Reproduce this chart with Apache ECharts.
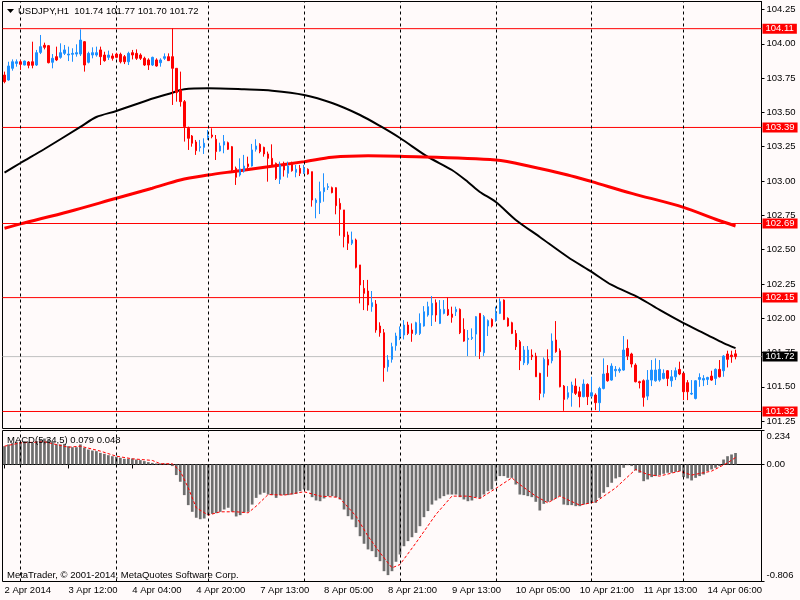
<!DOCTYPE html>
<html>
<head>
<meta charset="utf-8">
<script src="https://cdn.jsdelivr.net/npm/echarts@6.0.0/dist/echarts.min.js"></script>
<style>
html,body{margin:0;padding:0;background:#fffafa;}
#chart{width:800px;height:600px;}
</style>
</head>
<body>
<div id="chart"></div>
<script>
// ---- data ----
// trading sessions: [day label, first hour, last hour]
const sessions = [['2 Apr',20,23],['3 Apr',0,23],['4 Apr',0,22],['7 Apr',0,23],['8 Apr',0,23],['9 Apr',0,23],['10 Apr',0,23],['11 Apr',0,22],['14 Apr',0,13]];
const xTickLabels = ['2 Apr 2014','3 Apr 12:00','4 Apr 04:00','4 Apr 20:00','7 Apr 13:00','8 Apr 05:00','8 Apr 21:00','9 Apr 13:00','10 Apr 05:00','10 Apr 21:00','11 Apr 13:00','14 Apr 06:00'];
const priceTicks = [101.25,101.50,101.75,102.00,102.25,102.50,102.75,103.00,103.25,103.50,103.75,104.00,104.25];
const macdTickValues = [0.234, 0, -0.806];
const macdTickLabels = ['0.234','0.00','-0.806'];
const redLevels = [104.11, 103.39, 102.69, 102.15, 101.32];
const bidLevel = 101.72;

const open = [103.772,103.736,103.821,103.857,103.869,103.845,103.867,103.869,103.845,103.937,103.989,103.986,103.865,103.906,103.901,103.930,103.918,103.923,103.925,103.925,104.015,103.865,103.918,103.918,103.955,103.918,103.901,103.911,103.925,103.923,103.906,103.869,103.935,103.930,103.918,103.894,103.882,103.845,103.882,103.862,103.894,103.906,103.906,103.821,103.663,103.578,103.384,103.328,103.284,103.243,103.245,103.318,103.335,103.304,103.219,103.262,103.279,103.250,103.092,103.044,103.073,103.124,103.109,103.231,103.267,103.245,103.197,103.165,103.129,103.012,103.129,103.056,103.129,103.063,103.092,103.061,103.085,103.068,102.842,102.842,102.922,102.954,102.951,102.951,102.837,102.789,102.606,102.546,102.570,102.388,102.217,102.198,102.084,102.103,101.943,101.894,101.646,101.700,101.800,101.865,101.877,101.950,101.914,101.889,101.889,101.943,102.023,102.023,102.113,101.962,102.035,102.064,102.030,102.047,102.064,101.918,101.845,101.853,101.884,102.035,101.748,101.943,101.991,101.986,102.035,102.132,101.999,101.967,101.889,101.828,101.675,101.671,101.731,101.724,101.598,101.452,101.700,101.690,101.841,101.763,101.505,101.423,101.457,101.505,101.464,101.428,101.517,101.432,101.440,101.384,101.488,101.598,101.549,101.617,101.617,101.622,101.780,101.739,101.658,101.537,101.544,101.432,101.549,101.544,101.549,101.561,101.617,101.544,101.573,101.627,101.598,101.530,101.447,101.415,101.554,101.549,101.554,101.578,101.561,101.627,101.617,101.739,101.731,101.740];
const high = [103.797,103.869,103.886,103.886,103.882,103.877,103.874,104.015,103.955,104.064,104.008,103.991,103.925,103.979,104.003,103.991,103.979,103.967,103.996,104.105,104.020,103.942,103.974,103.979,103.979,103.942,103.950,103.930,103.935,103.935,103.918,103.942,103.955,103.959,103.930,103.906,103.894,103.906,103.894,103.894,103.930,103.930,104.112,103.821,103.797,103.590,103.396,103.335,103.299,103.299,103.311,103.372,103.384,103.335,103.279,103.335,103.287,103.255,103.105,103.165,103.190,103.177,103.270,103.304,103.275,103.250,103.214,103.267,103.134,103.141,103.141,103.141,103.141,103.117,103.117,103.117,103.092,103.068,102.874,102.995,103.056,102.983,102.959,102.954,102.874,102.789,102.631,102.631,102.580,102.388,102.278,102.279,102.198,102.132,101.970,101.921,101.731,101.821,101.894,101.940,101.986,101.974,101.962,101.974,102.035,102.088,102.120,102.161,102.137,102.132,102.132,102.152,102.084,102.084,102.071,101.999,101.914,101.926,102.016,102.035,102.023,101.991,101.999,102.084,102.144,102.137,102.006,101.974,101.914,101.841,101.797,101.797,101.773,101.748,101.602,101.714,101.773,101.889,101.979,101.780,101.513,101.505,101.537,101.561,101.500,101.554,101.525,101.573,101.452,101.500,101.707,101.658,101.671,101.651,101.641,101.870,101.845,101.748,101.671,101.544,101.554,101.622,101.695,101.707,101.695,101.627,101.622,101.622,101.641,101.683,101.602,101.549,101.549,101.549,101.598,101.585,101.573,101.617,101.634,101.695,101.731,101.763,101.763,101.770];
const low = [103.712,103.731,103.804,103.833,103.809,103.843,103.821,103.821,103.838,103.925,103.959,103.857,103.821,103.874,103.891,103.918,103.874,103.869,103.906,103.911,103.797,103.857,103.894,103.906,103.845,103.869,103.882,103.877,103.894,103.857,103.852,103.845,103.886,103.882,103.882,103.838,103.809,103.838,103.833,103.833,103.882,103.877,103.554,103.578,103.542,103.287,103.226,103.250,103.190,103.214,103.197,103.299,103.311,103.153,103.214,103.202,103.226,103.068,102.971,103.032,103.061,103.092,103.105,103.214,103.202,103.177,102.995,103.105,103.007,102.978,103.032,103.024,103.068,103.027,103.036,103.051,103.046,102.813,102.728,102.759,102.849,102.934,102.910,102.757,102.601,102.516,102.497,102.533,102.363,102.108,102.059,102.054,102.047,101.894,101.865,101.537,101.610,101.676,101.763,101.840,101.845,101.877,101.828,101.877,101.877,101.938,102.011,101.943,101.974,101.957,102.028,102.016,101.967,102.016,101.884,101.828,101.724,101.841,101.724,101.702,101.724,101.870,101.933,101.974,102.030,101.986,101.938,101.884,101.768,101.622,101.658,101.658,101.695,101.573,101.403,101.423,101.573,101.671,101.748,101.496,101.325,101.408,101.355,101.440,101.350,101.423,101.367,101.423,101.330,101.318,101.481,101.537,101.544,101.573,101.602,101.617,101.695,101.641,101.532,101.488,101.355,101.403,101.505,101.537,101.537,101.554,101.505,101.500,101.549,101.585,101.403,101.403,101.440,101.408,101.500,101.505,101.513,101.544,101.513,101.568,101.573,101.641,101.675,101.700];
const close = [103.724,103.838,103.869,103.869,103.850,103.874,103.843,103.843,103.935,103.979,103.974,103.862,103.894,103.882,103.935,103.955,103.925,103.930,103.935,104.027,103.845,103.930,103.935,103.935,103.906,103.877,103.918,103.894,103.901,103.869,103.869,103.930,103.918,103.894,103.894,103.845,103.845,103.901,103.838,103.882,103.906,103.877,103.821,103.644,103.578,103.396,103.311,103.275,103.221,103.250,103.275,103.328,103.323,103.214,103.255,103.287,103.231,103.080,103.027,103.088,103.109,103.105,103.226,103.255,103.214,103.197,103.165,103.109,103.019,103.117,103.080,103.109,103.075,103.085,103.056,103.092,103.051,102.861,102.861,102.922,102.951,102.959,102.915,102.820,102.793,102.594,102.546,102.570,102.371,102.242,102.181,102.096,102.113,101.914,101.894,101.639,101.695,101.792,101.870,101.918,101.950,101.889,101.889,101.967,101.962,102.047,102.084,102.108,102.023,102.064,102.064,102.023,102.006,102.064,101.894,101.833,101.853,101.860,102.011,101.756,102.011,101.982,101.943,102.040,102.120,101.991,101.943,101.889,101.792,101.690,101.768,101.768,101.719,101.573,101.452,101.700,101.658,101.833,101.756,101.500,101.408,101.457,101.513,101.452,101.428,101.520,101.428,101.457,101.384,101.488,101.593,101.544,101.651,101.627,101.627,101.768,101.724,101.666,101.537,101.530,101.423,101.549,101.622,101.622,101.627,101.598,101.561,101.573,101.617,101.593,101.464,101.464,101.452,101.544,101.568,101.561,101.568,101.549,101.627,101.573,101.724,101.700,101.719,101.720];

// moving averages: [bar index, value]
const maFast = [[0,103.061],[4,103.131],[10,103.233],[19,103.394],[23,103.466],[28,103.510],[36,103.590],[41,103.634],[45,103.668],[51,103.676],[60,103.668],[67,103.658],[75,103.627],[82,103.568],[89,103.481],[94,103.401],[99,103.313],[106,103.175],[112,103.080],[116,102.993],[119,102.920],[123,102.847],[128,102.716],[134,102.592],[141,102.446],[147,102.337],[152,102.242],[159,102.147],[164,102.060],[170,101.964],[176,101.877],[180,101.818],[183,101.782]];
const maSlow = [[0,102.655],[4,102.687],[16,102.776],[28,102.874],[37,102.947],[44,103.007],[51,103.043],[57,103.068],[66,103.104],[75,103.141],[82,103.173],[91,103.184],[99,103.180],[123,103.153],[132,103.104],[141,103.044],[147,102.995],[157,102.910],[170,102.808],[178,102.721],[183,102.672]];

const macd = [0.126,0.138,0.149,0.156,0.156,0.161,0.156,0.149,0.161,0.172,0.179,0.172,0.156,0.138,0.138,0.142,0.126,0.119,0.119,0.138,0.115,0.103,0.096,0.092,0.080,0.073,0.064,0.057,0.053,0.046,0.039,0.039,0.041,0.034,0.030,0.023,0.016,0.011,0.007,0.007,0.007,0.005,-0.011,-0.073,-0.119,-0.211,-0.280,-0.326,-0.367,-0.377,-0.372,-0.349,-0.340,-0.335,-0.326,-0.310,-0.298,-0.326,-0.358,-0.349,-0.331,-0.326,-0.276,-0.230,-0.207,-0.195,-0.207,-0.211,-0.230,-0.211,-0.211,-0.211,-0.207,-0.202,-0.184,-0.172,-0.179,-0.225,-0.248,-0.253,-0.234,-0.218,-0.218,-0.225,-0.241,-0.310,-0.356,-0.379,-0.432,-0.494,-0.546,-0.585,-0.597,-0.638,-0.666,-0.735,-0.762,-0.735,-0.670,-0.620,-0.563,-0.528,-0.501,-0.471,-0.425,-0.363,-0.321,-0.276,-0.248,-0.234,-0.218,-0.207,-0.207,-0.207,-0.225,-0.241,-0.253,-0.248,-0.225,-0.234,-0.207,-0.184,-0.172,-0.115,-0.080,-0.080,-0.092,-0.092,-0.138,-0.207,-0.211,-0.218,-0.225,-0.257,-0.317,-0.271,-0.257,-0.248,-0.234,-0.218,-0.276,-0.280,-0.280,-0.287,-0.287,-0.276,-0.271,-0.264,-0.264,-0.230,-0.195,-0.156,-0.126,-0.096,-0.087,-0.023,-0.005,-0.011,-0.041,-0.057,-0.115,-0.103,-0.087,-0.080,-0.073,-0.064,-0.057,-0.057,-0.051,-0.046,-0.087,-0.096,-0.110,-0.092,-0.080,-0.069,-0.046,-0.034,-0.023,-0.011,0.034,0.057,0.069,0.079];
const signal = [[0,0.126],[4,0.149],[10,0.156],[16,0.119],[19,0.126],[24,0.092],[28,0.057],[32,0.039],[37,0.028],[39,0.005],[42,0.005],[44,-0.046],[46,-0.161],[48,-0.298],[51,-0.349],[54,-0.326],[58,-0.326],[61,-0.333],[63,-0.287],[66,-0.207],[70,-0.211],[75,-0.188],[79,-0.218],[83,-0.225],[84,-0.234],[88,-0.356],[91,-0.494],[94,-0.608],[97,-0.712],[99,-0.689],[103,-0.540],[108,-0.344],[112,-0.218],[116,-0.218],[119,-0.234],[123,-0.165],[127,-0.092],[129,-0.138],[133,-0.218],[136,-0.264],[139,-0.218],[144,-0.280],[148,-0.257],[153,-0.161],[158,-0.034],[161,-0.069],[164,-0.080],[169,-0.046],[172,-0.073],[177,-0.046],[181,0.011],[183,0.048]];

// ---- build tables ----
const categories = [];
const dayStarts = [];
sessions.forEach(function (s) {
  for (let h = s[1]; h <= s[2]; h++) {
    if (h === 0) dayStarts.push(categories.length);
    categories.push(s[0] + ' ' + (h < 10 ? '0' : '') + h + ':00');
  }
});
const nBars = categories.length;
for (let k = 0; k < 6; k++) categories.push('');
const candles = open.map(function (o, i) { return [o, close[i], low[i], high[i]]; });
const nulls = categories.map(function () { return null; });

const FONT = 'Liberation Sans';
const FS = 9.5;
const labelEvery = 16;
function isLabel(idx) { return idx % labelEvery === 0 && idx < nBars; }

const chart = echarts.init(document.getElementById('chart'), null, {renderer: 'canvas'});
const vLines = dayStarts.map(function (i) { return {xAxis: i}; });

// horizontal price levels drawn as line series across a hidden 0..1 axis spanning the panel
function levelSeries(v, lineColor, boxColor) {
  return {
    type: 'line', name: 'level ' + v, xAxisIndex: 2, yAxisIndex: 0, z: 2, silent: true,
    data: [[0, v], [1, v]], showSymbol: false, symbol: 'none',
    color: lineColor,
    lineStyle: {color: lineColor, width: 1, type: 'solid'},
    endLabel: {show: true, distance: 1, padding: [1, 3, 0, 3], fontSize: FS, fontFamily: FONT,
      lineHeight: 9, backgroundColor: boxColor, color: '#ffffff',
      formatter: function () { return v.toFixed(2); }}
  };
}
const levelSeriesList = [levelSeries(bidLevel, '#c0c0c0', '#000000')].concat(
  redLevels.map(function (v) { return levelSeries(v, '#ff0000', '#ff0000'); }));

chart.setOption({
  animation: false,
  backgroundColor: '#fffafa',
  textStyle: {fontFamily: FONT},
  grid: [
    {left: 2.5, right: 38.5, top: 1.5, bottom: 171.5, show: true, borderColor: '#000', borderWidth: 1, backgroundColor: '#fffafa'},
    {left: 2.5, right: 38.5, top: 430.5, bottom: 18.5, show: true, borderColor: '#000', borderWidth: 1, backgroundColor: '#fffafa'}
  ],
  xAxis: [
    {type: 'category', gridIndex: 0, data: categories, boundaryGap: true,
      axisLine: {show: false}, axisTick: {show: false}, axisLabel: {show: false}, splitLine: {show: false}},
    {type: 'category', gridIndex: 1, data: categories, boundaryGap: true,
      axisLine: {show: true, lineStyle: {color: '#000', width: 1}},
      axisTick: {show: true, alignWithLabel: true, interval: function (idx) { return isLabel(idx); }, length: 4, lineStyle: {color: '#000'}},
      axisLabel: {show: true, interval: function (idx) { return isLabel(idx); }, align: 'left', margin: 4,
        color: '#000', fontSize: FS, fontFamily: FONT,
        formatter: function (val, idx) { return xTickLabels[Math.round(idx / labelEvery)]; }},
      splitLine: {show: false}},
    {type: 'value', gridIndex: 0, min: 0, max: 1, show: false,
      axisLine: {show: false, onZero: false}, axisTick: {show: false}, axisLabel: {show: false}, splitLine: {show: false}}
  ],
  yAxis: [
    {type: 'value', gridIndex: 0, position: 'right', min: 101.196, max: 104.308, scale: true,
      axisLine: {show: true, onZero: false, lineStyle: {color: '#000'}},
      axisTick: {show: true, length: 3, customValues: priceTicks, lineStyle: {color: '#000'}},
      axisLabel: {show: true, customValues: priceTicks, margin: 5, color: '#000', fontSize: FS, fontFamily: FONT,
        formatter: function (v) { return v.toFixed(2); }},
      splitLine: {show: false}},
    {type: 'value', gridIndex: 1, position: 'right', min: -0.806, max: 0.234,
      axisLine: {show: true, onZero: false, lineStyle: {color: '#000'}},
      axisTick: {show: true, length: 3, customValues: macdTickValues, lineStyle: {color: '#000'}},
      axisLabel: {show: true, customValues: macdTickValues, margin: 5, color: '#000', fontSize: FS, fontFamily: FONT,
        formatter: function (v) {
          const k = macdTickValues.indexOf(v);
          const t = k >= 0 ? macdTickLabels[k] : '';
          if (v === macdTickValues[0]) return '{t|' + t + '}';
          if (v === macdTickValues[2]) return '{b|' + t + '}';
          return t;
        },
        rich: {
          t: {padding: [12, 0, 0, 0], fontSize: FS, fontFamily: FONT, color: '#000'},
          b: {padding: [0, 0, 12, 0], fontSize: FS, fontFamily: FONT, color: '#000'}
        }},
      splitLine: {show: false}}
  ],
  series: [
    {type: 'line', name: 'grid0', xAxisIndex: 0, yAxisIndex: 0, data: nulls, z: 1, silent: true, showSymbol: false,
      markLine: {silent: true, symbol: ['none', 'none'], animation: false,
        lineStyle: {color: '#000', type: [3, 3], width: 1},
        label: {show: false}, data: vLines}},
    {type: 'line', name: 'MA fast', xAxisIndex: 0, yAxisIndex: 0, data: maFast, z: 3, smooth: 0.3,
      showSymbol: false, lineStyle: {color: '#000000', width: 2}},
    {type: 'line', name: 'MA slow', xAxisIndex: 0, yAxisIndex: 0, data: maSlow, z: 3, smooth: 0.3,
      showSymbol: false, lineStyle: {color: '#ff0000', width: 3}},
    {type: 'candlestick', name: 'USDJPY', xAxisIndex: 0, yAxisIndex: 0, data: candles, z: 5, barWidth: 2,
      itemStyle: {color: '#1e90ff', color0: '#ff0000', borderColor: '#1e90ff', borderColor0: '#ff0000', borderWidth: 1}},
    {type: 'line', name: 'grid1', xAxisIndex: 1, yAxisIndex: 1, data: nulls, z: 1, silent: true, showSymbol: false,
      markLine: {silent: true, symbol: ['none', 'none'], animation: false,
        lineStyle: {color: '#000', type: [3, 3], width: 1},
        label: {show: false}, data: vLines}},
    {type: 'bar', name: 'MACD', xAxisIndex: 1, yAxisIndex: 1, data: macd, z: 3, barWidth: 2.7,
      itemStyle: {color: '#6e6e6e'}},
    {type: 'line', name: 'Signal', xAxisIndex: 1, yAxisIndex: 1, data: signal, z: 4,
      showSymbol: false, lineStyle: {color: '#ff0000', width: 1, type: [3, 2]}}
  ].concat(levelSeriesList),
  graphic: [
    {type: 'polygon', z: 100, shape: {points: [[7, 9], [14, 9], [10.5, 13]]}, style: {fill: '#000'}},
    {type: 'text', z: 100, style: {x: 18, y: 11, text: 'USDJPY,H1  101.74 101.77 101.70 101.72', fill: '#000',
      font: FS + 'px "Liberation Sans"', verticalAlign: 'middle'}},
    {type: 'text', z: 100, style: {x: 7, y: 440, text: 'MACD(5,34,5) 0.079 0.048', fill: '#000',
      font: FS + 'px "Liberation Sans"', verticalAlign: 'middle'}},
    {type: 'text', z: 100, style: {x: 7, y: 575, text: 'MetaTrader, © 2001-2014, MetaQuotes Software Corp.', fill: '#000',
      font: FS + 'px "Liberation Sans"', verticalAlign: 'middle'}}
  ]
});
</script>
</body>
</html>
